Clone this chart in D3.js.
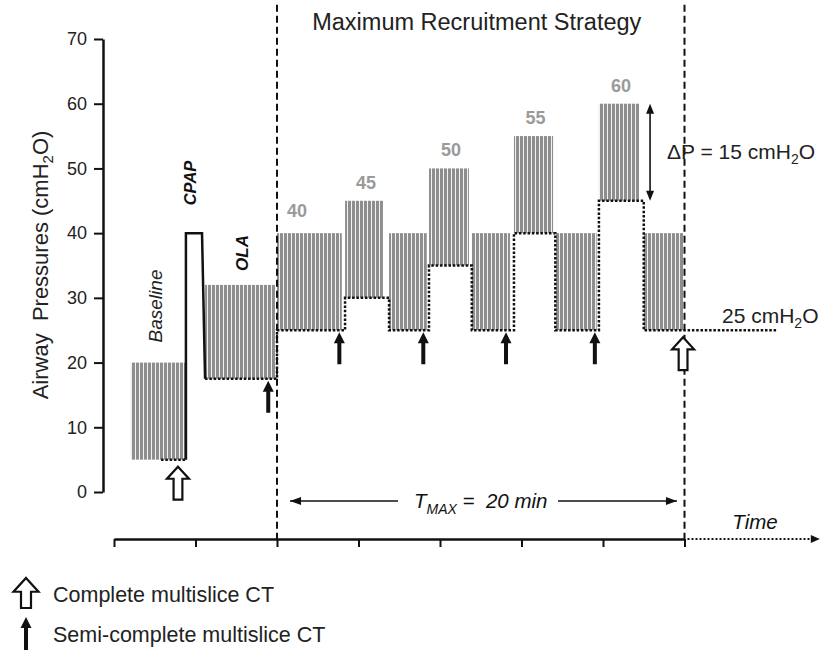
<!DOCTYPE html>
<html>
<head>
<meta charset="utf-8">
<script src="https://cdn.jsdelivr.net/npm/d3@7"></script>
<style>
  html, body { margin: 0; padding: 0; background: #fff; }
  svg { display: block; font-family: "Liberation Sans", Arial, Helvetica, sans-serif; }
</style>
</head>
<body>
<svg id="chart" width="822" height="652"></svg>
<script>
// ---------------- DATA ----------------
// time in minutes (0 = start of maximum recruitment), pressures in cmH2O
const phaseNames = ["Baseline", "OLA", "R40", "R45", "R40", "R50", "R40", "R55", "R40", "R60", "R40"];
const phaseStart = [-7.17, -3.53, 0.0, 3.34, 5.50, 7.46, 9.56, 11.63, 13.66, 15.80, 18.00];
const phaseEnd   = [-4.47, -0.10, 3.18, 5.20, 7.35, 9.42, 11.44, 13.55, 15.69, 17.77, 19.93];
const phasePIP   = [20, 32, 40, 45, 40, 50, 40, 55, 40, 60, 40];
const phasePEEP  = [5, 17.5, 25, 30, 25, 35, 25, 40, 25, 45, 25];

// CPAP manoeuvre
const cpapTimes  = [-4.47, -4.47, -3.68, -3.53];
const cpapLevels = [5, 40, 40, 17.5];

// PEEP after the strategy
const finalPEEP = 25;
const finalPEEPEnd = 24.5;
const baselineDottedStart = -5.69;

// step labels (recruitment pressure levels) and the phase they belong to
const stepLabels = ["40", "45", "50", "55", "60"];
const stepPhaseIndex = [2, 3, 5, 7, 9];

// CT acquisitions
const completeCTTimes  = [-4.86, 19.93];
const completeCTLevels = [5, 25];
const semiCTTimes  = [-0.43, 3.06, 7.18, 11.24, 15.60];
const semiCTLevels = [17.5, 25, 25, 25, 25];

// axes
const yTicks = [0, 10, 20, 30, 40, 50, 60, 70];
const xTicks = [-8, -4, 0, 4, 8, 12, 16, 20];
const tmaxStart = 0, tmaxEnd = 20;

// ---------------- CHART ----------------
const svg = d3.select("#chart");
const x = d3.scaleLinear().domain([-8, 20]).range([114, 684.5]);
const y = d3.scaleLinear().domain([0, 70]).range([492, 39]);
const axisY = 539;

const defs = svg.append("defs");
const pat = defs.append("pattern").attr("id", "breaths")
  .attr("patternUnits", "userSpaceOnUse").attr("width", 4).attr("height", 10);
pat.append("rect").attr("width", 4).attr("height", 10).attr("fill", "#f2f2f2");
pat.append("rect").attr("width", 3).attr("height", 10).attr("fill", "#8e8e8e");

// breathing blocks
const phases = phaseNames.map((n, i) => ({ n, s: phaseStart[i], e: phaseEnd[i], pip: phasePIP[i], peep: phasePEEP[i] }));
svg.append("g").selectAll("rect").data(phases).join("rect")
  .attr("x", d => x(d.s)).attr("y", d => y(d.pip))
  .attr("width", d => x(d.e) - x(d.s)).attr("height", d => y(d.peep) - y(d.pip))
  .attr("fill", "url(#breaths)");

// dashed vertical separators
const topY = y(75.3);
[tmaxStart, tmaxEnd].forEach(t => {
  svg.append("line").attr("x1", x(t)).attr("x2", x(t)).attr("y1", topY).attr("y2", axisY)
    .attr("stroke", "#111").attr("stroke-width", 2).attr("stroke-dasharray", "7,4");
});

// PEEP dotted step line (OLA + recruitment)
const peepPts = phases.slice(1).map(d => [d.s, d.peep]);
peepPts.push([finalPEEPEnd, finalPEEP]);
svg.append("path").attr("d", d3.line().x(d => x(d[0])).y(d => y(d[1])).curve(d3.curveStepAfter)(peepPts))
  .attr("fill", "none").attr("stroke", "#111").attr("stroke-width", 2.5).attr("stroke-dasharray", "2.5,1.8");
// baseline dotted
svg.append("line").attr("x1", x(baselineDottedStart)).attr("x2", x(phaseEnd[0]))
  .attr("y1", y(phasePEEP[0])).attr("y2", y(phasePEEP[0]))
  .attr("stroke", "#111").attr("stroke-width", 2.5).attr("stroke-dasharray", "2.5,1.8");

// CPAP line
svg.append("path").attr("d", d3.line().x((d, i) => x(cpapTimes[i])).y((d, i) => y(cpapLevels[i]))(cpapTimes))
  .attr("fill", "none").attr("stroke", "#111").attr("stroke-width", 2.5);

// Y axis
const yAxis = svg.append("g").attr("transform", "translate(103,0)")
  .call(d3.axisLeft(y).tickValues(yTicks).tickSize(9).tickSizeOuter(0).tickPadding(7));
yAxis.select(".domain").attr("stroke", "#111").attr("stroke-width", 2.5);
yAxis.selectAll(".tick line").attr("stroke", "#111").attr("stroke-width", 2);
yAxis.selectAll(".tick text").attr("font-size", 18).attr("fill", "#222")
  .attr("font-family", "Liberation Sans, Arial, sans-serif");

// X (time) axis
const xAxis = svg.append("g").attr("transform", `translate(0,${axisY})`)
  .call(d3.axisBottom(x).tickValues(xTicks).tickSize(8).tickSizeOuter(0).tickFormat(""));
xAxis.select(".domain").attr("stroke", "#111").attr("stroke-width", 2.5);
xAxis.selectAll(".tick line").attr("stroke", "#111").attr("stroke-width", 2);

// dotted continuation arrow
svg.append("line").attr("x1", x(20) + 3).attr("x2", x(26.2)).attr("y1", axisY).attr("y2", axisY)
  .attr("stroke", "#111").attr("stroke-width", 2).attr("stroke-dasharray", "2,2");
svg.append("path").attr("transform", `translate(${x(26.2)},${axisY})`)
  .attr("d", "M0,-4 L9,0 L0,4 Z").attr("fill", "#111");

svg.append("text").attr("x", 755).attr("y", 529).attr("text-anchor", "middle")
  .attr("font-size", 20.5).attr("font-style", "italic").attr("fill", "#111").text("Time");

// Y title
svg.append("text").attr("transform", "translate(48,265) rotate(-90)").attr("text-anchor", "middle")
  .attr("font-size", 22).attr("fill", "#222")
  .html('Airway&#160; Pressures (cmH<tspan font-size="15" dy="5">2</tspan><tspan dy="-5">O)</tspan>');

// Title
svg.append("text").attr("x", (x(tmaxStart) + x(tmaxEnd)) / 2 - 4).attr("y", 30).attr("text-anchor", "middle")
  .attr("font-size", 23.5).attr("fill", "#222").text("Maximum Recruitment Strategy");

// phase labels
svg.append("text").attr("transform", `translate(162,306) rotate(-90)`).attr("text-anchor", "middle")
  .attr("font-size", 19).attr("font-style", "italic").attr("fill", "#222").text("Baseline");
svg.append("text").attr("transform", `translate(196,183) rotate(-90)`).attr("text-anchor", "middle")
  .attr("font-size", 16.5).attr("font-style", "italic").attr("font-weight", "bold").attr("fill", "#111").text("CPAP");
svg.append("text").attr("transform", `translate(248,253) rotate(-90)`).attr("text-anchor", "middle")
  .attr("font-size", 17).attr("font-style", "italic").attr("font-weight", "bold").attr("fill", "#111").text("OLA");

// step labels
svg.append("g").selectAll("text").data(stepLabels).join("text")
  .attr("x", (d, i) => {
    const p = phases[stepPhaseIndex[i]];
    return i === 0 ? x(p.s) + 20 : (x(p.s) + x(p.e)) / 2 + 2;
  })
  .attr("y", (d, i) => y(phases[stepPhaseIndex[i]].pip) - (i === 0 ? 16 : 12))
  .attr("text-anchor", "middle").attr("font-size", 18).attr("font-weight", "bold")
  .attr("fill", "#9a9a9a").text(d => d);

// Delta P annotation
const p60 = phases[9];
const dpx = x(p60.e) + 11;
svg.append("line").attr("x1", dpx).attr("x2", dpx).attr("y1", y(p60.pip) + 8).attr("y2", y(p60.peep) - 8)
  .attr("stroke", "#111").attr("stroke-width", 1.6);
svg.append("path").attr("transform", `translate(${dpx},${y(p60.pip)})`).attr("d", "M0,0 L4,10 L-4,10 Z").attr("fill", "#111");
svg.append("path").attr("transform", `translate(${dpx},${y(p60.peep)})`).attr("d", "M0,0 L4,-10 L-4,-10 Z").attr("fill", "#111");
svg.append("text").attr("x", 667).attr("y", 159).attr("font-size", 21).attr("fill", "#222")
  .html(`ΔP = ${p60.pip - p60.peep} cmH<tspan font-size="14" dy="5">2</tspan><tspan dy="-5">O</tspan>`);
svg.append("text").attr("x", 722).attr("y", 323).attr("font-size", 21).attr("fill", "#222")
  .html(`${finalPEEP} cmH<tspan font-size="14" dy="5">2</tspan><tspan dy="-5">O</tspan>`);

// T MAX annotation
const tmY = 501;
svg.append("line").attr("x1", x(0.64)).attr("x2", x(5.94)).attr("y1", tmY).attr("y2", tmY).attr("stroke", "#111").attr("stroke-width", 1.6);
svg.append("path").attr("transform", `translate(${x(0.64)},${tmY})`).attr("d", "M0,0 L11,-4 L11,4 Z").attr("fill", "#111");
svg.append("line").attr("x1", x(13.79)).attr("x2", x(19.63)).attr("y1", tmY).attr("y2", tmY).attr("stroke", "#111").attr("stroke-width", 1.6);
svg.append("path").attr("transform", `translate(${x(19.63)},${tmY})`).attr("d", "M0,0 L-11,-4 L-11,4 Z").attr("fill", "#111");
svg.append("text").attr("x", x(10)).attr("y", 508).attr("text-anchor", "middle").attr("font-size", 20.5)
  .attr("font-style", "italic").attr("fill", "#111")
  .html(`T<tspan font-size="14" dy="6">MAX</tspan><tspan dy="-6"> =&#160; ${tmaxEnd - tmaxStart} min</tspan>`);

// arrows
function openArrow(g, w, len) {
  const hw = w / 2, sw = w * 0.2, hh = w * 0.55;
  g.append("path").attr("d", `M0,0 L${hw},${hh} L${sw},${hh} L${sw},${len} L${-sw},${len} L${-sw},${hh} L${-hw},${hh} Z`)
    .attr("fill", "#fff").attr("stroke", "#111").attr("stroke-width", 2.2).attr("stroke-linejoin", "miter");
}
function solidArrow(g, len) {
  g.append("path").attr("d", `M0,0 L5.5,11 L2,11 L2,${len} L-2,${len} L-2,11 L-5.5,11 Z`).attr("fill", "#111");
}
completeCTTimes.forEach((t, i) => {
  openArrow(svg.append("g").attr("transform", `translate(${x(t)},${y(completeCTLevels[i]) + 7})`), 22, 33);
});
semiCTTimes.forEach((t, i) => {
  solidArrow(svg.append("g").attr("transform", `translate(${x(t)},${y(semiCTLevels[i]) + 2})`), 32);
});

// legend
openArrow(svg.append("g").attr("transform", "translate(26,578)"), 25, 30);
svg.append("text").attr("x", 53).attr("y", 602).attr("font-size", 21.5).attr("fill", "#222").text("Complete multislice CT");
solidArrow(svg.append("g").attr("transform", "translate(26,617)"), 33);
svg.append("text").attr("x", 53).attr("y", 642).attr("font-size", 21.5).attr("fill", "#222").text("Semi-complete multislice CT");
</script>
</body>
</html>
